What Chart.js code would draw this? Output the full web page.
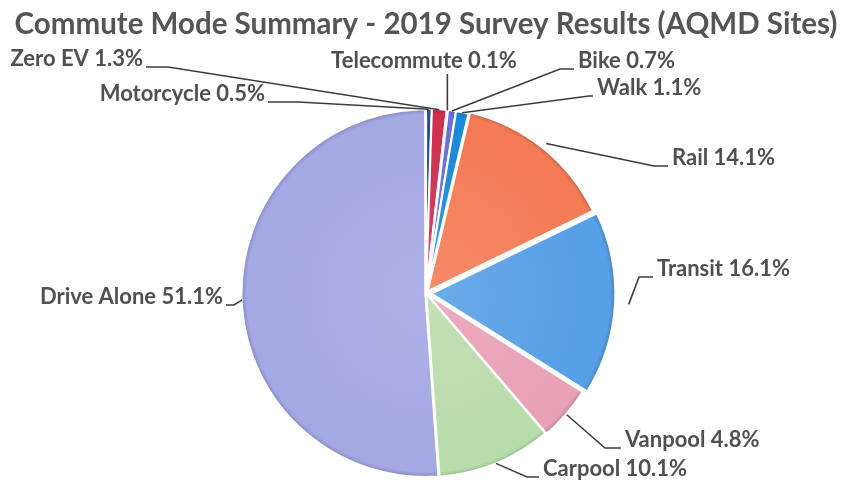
<!DOCTYPE html>
<html>
<head>
<meta charset="utf-8">
<script src="https://cdn.jsdelivr.net/npm/chart.js@4"></script>
<style>
  html, body { margin: 0; padding: 0; background: #fff; }
  #wrap { width: 843px; height: 480px; }
</style>
</head>
<body>
<div id="wrap"><canvas id="chart" width="843" height="480"></canvas></div>
<script>
// clockwise from 12 o'clock
const modes = ['Motorcycle', 'Zero EV', 'Telecommute', 'Bike', 'Walk', 'Rail', 'Transit', 'Vanpool', 'Carpool', 'Drive Alone'];
const shares = [0.5, 1.3, 0.1, 0.7, 1.1, 14.1, 16.1, 4.8, 10.1, 51.1];

const sliceColors = ['#1c4f9c', '#cf314f', '#8a4fb0', '#6b6fd6', '#1c8ad6', '#f47b56', '#579fe6', '#e9a1b7', '#b9dcab', '#a4a8e3'];
const sliceOffsets = [3, 3, 3, 3, 3, 11, 22, 5, 3, 3];

// label placement: x, y (text middle), align, elbow length
const labelLayout = [
  { x: 265, y: 94, align: 'right', elbow: 30 },
  { x: 143, y: 59, align: 'right', elbow: 22 },
  { x: 424, y: 61, align: 'center', elbow: 0 },
  { x: 578, y: 61, align: 'left', elbow: 14 },
  { x: 597, y: 88, align: 'left', elbow: 4 },
  { x: 672, y: 158, align: 'left', elbow: 14 },
  { x: 657, y: 269, align: 'left', elbow: 14 },
  { x: 625, y: 440, align: 'left', elbow: 16 },
  { x: 543, y: 469, align: 'left', elbow: 12 },
  { x: 223, y: 297, align: 'right', elbow: 8 }
];

const labelFont = 'bold 22px Lato';
const textColor = '#505050';

function shade(hex, f) {
  const n = parseInt(hex.slice(1), 16);
  const ch = [(n >> 16) & 255, (n >> 8) & 255, n & 255].map(c =>
    Math.round(f < 0 ? c * (1 + f) : c + (255 - c) * f));
  return 'rgb(' + ch.join(',') + ')';
}

// soft bevel: slightly lighter centre, darker rim
function bevelFill(context) {
  const chart = context.chart;
  const base = sliceColors[context.dataIndex];
  const area = chart.chartArea;
  if (!area) return base;
  const cx = (area.left + area.right) / 2;
  const cy = (area.top + area.bottom) / 2;
  const g = chart.ctx.createRadialGradient(cx, cy, 0, cx, cy, 184);
  g.addColorStop(0, shade(base, 0.12));
  g.addColorStop(0.85, base);
  g.addColorStop(0.97, base);
  g.addColorStop(1, shade(base, -0.18));
  return g;
}

const leaderLabels = {
  id: 'leaderLabels',
  afterDatasetsDraw(chart) {
    const ctx = chart.ctx;
    const arcs = chart.getDatasetMeta(0).data;
    ctx.save();
    ctx.font = labelFont;
    ctx.fillStyle = textColor;
    ctx.strokeStyle = '#3c3c3c';
    ctx.lineWidth = 1.6;
    ctx.textBaseline = 'middle';
    arcs.forEach((arc, i) => {
      const p = arc.getProps(['x', 'y', 'startAngle', 'endAngle', 'outerRadius'], true);
      const mid = (p.startAngle + p.endAngle) / 2;
      const r = p.outerRadius + (arc.options.offset || 0) - 2;
      const px = p.x + Math.cos(mid) * r;
      const py = p.y + Math.sin(mid) * r;
      const lay = labelLayout[i];
      const text = modes[i] + ' ' + shares[i] + '%';
      ctx.textAlign = lay.align;
      ctx.fillText(text, lay.x, lay.y);
      ctx.beginPath();
      const by = lay.y + 8;
      if (lay.align === 'center') {
        ctx.moveTo(px, lay.y + 13);
        ctx.lineTo(px, py);
      } else if (lay.align === 'right') {
        const sx = lay.x + 3;
        ctx.moveTo(sx, by);
        ctx.lineTo(sx + lay.elbow, by);
        ctx.lineTo(px, py);
      } else {
        const sx = lay.x - 4;
        ctx.moveTo(sx, by);
        ctx.lineTo(sx - lay.elbow, by);
        ctx.lineTo(px, py);
      }
      ctx.stroke();
    });
    ctx.restore();
  }
};

new Chart(document.getElementById('chart').getContext('2d'), {
  type: 'pie',
  data: {
    labels: modes,
    datasets: [{
      data: shares,
      backgroundColor: bevelFill,
      borderColor: '#ffffff',
      borderWidth: 2,
      offset: sliceOffsets
    }]
  },
  options: {
    responsive: false,
    animation: false,
    radius: 183,
    layout: { padding: { left: 9, right: 0, top: 0, bottom: 0 } },
    plugins: {
      legend: { display: false },
      tooltip: { enabled: false },
      title: {
        display: true,
        text: 'Commute Mode Summary - 2019 Survey Results (AQMD Sites)',
        color: '#555555',
        font: { family: 'Lato', size: 29.5, weight: 'bold', lineHeight: 1.2 },
        padding: { top: 7, bottom: 64 }
      }
    }
  },
  plugins: [leaderLabels]
});
</script>
</body>
</html>
